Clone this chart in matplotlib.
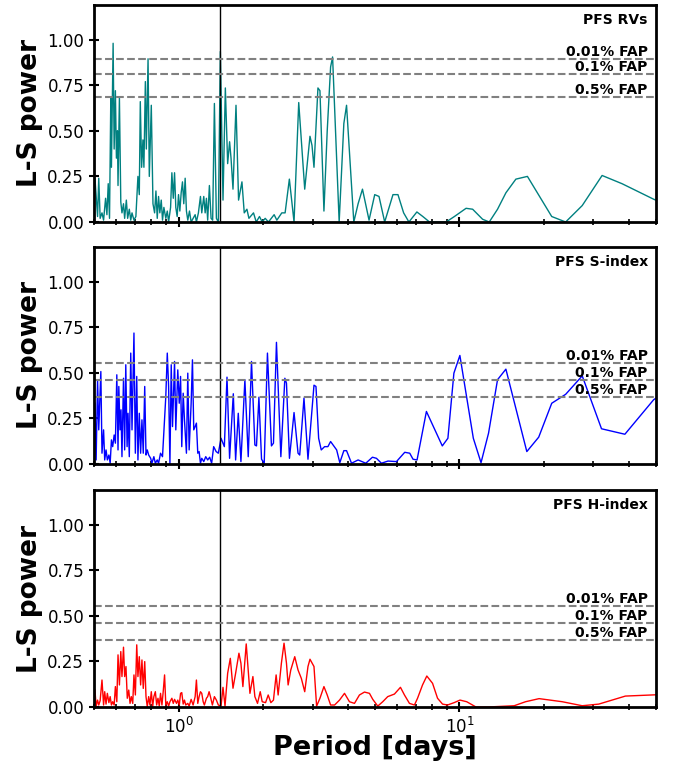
import numpy as np
import matplotlib
matplotlib.use('Agg')
import matplotlib.pyplot as plt

# PFS RVs periodogram (period in days, L-S power)
rv_period = [0.504, 0.515, 0.520, 0.526, 0.534, 0.541, 0.550, 0.556, 0.562, 0.568,
             0.574, 0.577, 0.585, 0.590, 0.596, 0.601, 0.606, 0.609, 0.616, 0.623,
             0.629, 0.637, 0.643, 0.652, 0.659, 0.668, 0.676, 0.683, 0.694, 0.705,
             0.717, 0.725, 0.731, 0.739, 0.747, 0.753, 0.762, 0.768, 0.779, 0.787,
             0.800, 0.811, 0.822, 0.831, 0.840, 0.849, 0.858, 0.868, 0.877, 0.887,
             0.901, 0.912, 0.922, 0.937, 0.947, 0.958, 0.968, 0.978, 0.989, 1.000,
             1.011, 1.022, 1.033, 1.044, 1.056, 1.067, 1.079, 1.094, 1.109, 1.127,
             1.146, 1.158, 1.177, 1.197, 1.210, 1.230, 1.244, 1.257, 1.270, 1.288,
             1.306, 1.323, 1.342, 1.364, 1.386, 1.409, 1.440, 1.468, 1.496, 1.520,
             1.538, 1.563, 1.602, 1.636, 1.682, 1.714, 1.752, 1.781, 1.849, 1.891,
             1.942, 1.986, 2.035, 2.090, 2.190, 2.239, 2.332, 2.396, 2.481, 2.578,
             2.679, 2.814, 2.938, 2.987, 3.036, 3.136, 3.188, 3.294, 3.384, 3.479,
             3.536, 3.732, 3.878, 3.965, 4.208, 4.359, 4.518, 4.768, 4.995, 5.174,
             5.420, 5.801, 6.043, 6.331, 6.611, 7.057, 7.410, 7.827, 8.970, 9.599,
             10.562, 11.147, 12.096, 12.774, 13.672, 14.641, 15.889, 17.466, 21.316, 23.897,
             27.370, 32.218, 37.931, 49.141, 50.0]
rv_power = [0.24, 0.03, 0.24, 0.02, 0.05, 0.01, 0.13, 0.04, 0.21, 0.02,
            0.68, 0.30, 0.98, 0.40, 0.72, 0.35, 0.50, 0.20, 0.68, 0.11,
            0.05, 0.10, 0.02, 0.12, 0.02, 0.07, 0.01, 0.05, 0.01, 0.03,
            0.25, 0.15, 0.66, 0.30, 0.45, 0.30, 0.77, 0.40, 0.895, 0.25,
            0.64, 0.10, 0.05, 0.17, 0.02, 0.14, 0.05, 0.12, 0.01, 0.08,
            0.02, 0.06, 0.00, 0.08, 0.27, 0.13, 0.27, 0.08, 0.03, 0.15,
            0.06, 0.16, 0.22, 0.10, 0.24, 0.06, 0.01, 0.06, 0.00, 0.02,
            0.04, 0.00, 0.05, 0.14, 0.05, 0.14, 0.05, 0.13, 0.01, 0.20,
            0.02, 0.01, 0.65, 0.02, 0.00, 0.935, 0.12, 0.735, 0.32, 0.44,
            0.35, 0.18, 0.64, 0.12, 0.22, 0.05, 0.07, 0.02, 0.05, 0.00,
            0.03, 0.00, 0.02, 0.00, 0.04, 0.01, 0.05, 0.05, 0.235, 0.00,
            0.655, 0.18, 0.47, 0.42, 0.30, 0.735, 0.72, 0.06, 0.50, 0.85,
            0.905, 0.00, 0.54, 0.64, 0.00, 0.10, 0.18, 0.01, 0.15, 0.14,
            0.00, 0.15, 0.15, 0.05, 0.00, 0.055, 0.03, 0.00, 0.00, 0.03,
            0.075, 0.07, 0.015, 0.00, 0.07, 0.16, 0.235, 0.25, 0.03, 0.00,
            0.09, 0.255, 0.21, 0.125, 0.12]

# PFS S-index periodogram
s_period = [0.504, 0.509, 0.515, 0.520, 0.529, 0.534, 0.541, 0.546, 0.552, 0.558,
            0.565, 0.571, 0.577, 0.583, 0.590, 0.596, 0.603, 0.609, 0.613, 0.619,
            0.624, 0.629, 0.637, 0.643, 0.649, 0.656, 0.661, 0.668, 0.676, 0.683,
            0.694, 0.702, 0.710, 0.717, 0.725, 0.733, 0.741, 0.749, 0.758, 0.766,
            0.774, 0.783, 0.796, 0.804, 0.817, 0.827, 0.840, 0.849, 0.863, 0.877,
            0.892, 0.901, 0.912, 0.922, 0.932, 0.942, 0.952, 0.968, 0.978, 0.994,
            1.006, 1.017, 1.027, 1.039, 1.050, 1.067, 1.079, 1.091, 1.109, 1.121,
            1.133, 1.146, 1.158, 1.171, 1.184, 1.197, 1.210, 1.230, 1.250, 1.270,
            1.291, 1.312, 1.334, 1.361, 1.386, 1.417, 1.456, 1.488, 1.520, 1.567,
            1.597, 1.632, 1.668, 1.723, 1.771, 1.819, 1.870, 1.895, 1.933, 1.975,
            2.019, 2.073, 2.142, 2.178, 2.232, 2.314, 2.391, 2.423, 2.483, 2.578,
            2.664, 2.701, 2.797, 2.890, 3.036, 3.086, 3.154, 3.222, 3.312, 3.403,
            3.479, 3.656, 3.752, 3.878, 3.965, 4.130, 4.359, 4.643, 4.903, 5.066,
            5.277, 5.570, 5.969, 6.389, 6.656, 6.838, 7.067, 7.631, 8.692, 9.101,
            9.559, 10.04, 11.21, 11.94, 12.70, 13.67, 14.64, 17.38, 19.16, 21.32,
            23.90, 27.37, 32.06, 38.83, 49.14, 50.0]
s_power = [0.333, 0.022, 0.462, 0.187, 0.507, 0.059, 0.187, 0.022, 0.077, 0.022,
           0.049, 0.004, 0.132, 0.095, 0.159, 0.114, 0.489, 0.077, 0.425, 0.187,
           0.297, 0.040, 0.470, 0.077, 0.544, 0.095, 0.278, 0.040, 0.608, 0.187,
           0.718, 0.059, 0.480, 0.022, 0.278, 0.059, 0.242, 0.059, 0.425, 0.049,
           0.077, 0.049, 0.031, 0.004, 0.040, 0.004, 0.022, 0.004, 0.059, 0.040,
           0.242, 0.370, 0.608, 0.425, 0.000, 0.544, 0.205, 0.562, 0.187, 0.516,
           0.333, 0.480, 0.095, 0.388, 0.242, 0.059, 0.498, 0.077, 0.333, 0.571,
           0.187, 0.205, 0.224, 0.059, 0.068, 0.004, 0.031, 0.013, 0.040, 0.022,
           0.037, 0.004, 0.095, 0.068, 0.059, 0.141, 0.095, 0.476, 0.031, 0.385,
           0.022, 0.278, 0.013, 0.462, 0.040, 0.562, 0.104, 0.099, 0.366, 0.026,
           0.004, 0.608, 0.099, 0.114, 0.667, 0.040, 0.470, 0.443, 0.031, 0.282,
           0.059, 0.049, 0.361, 0.026, 0.432, 0.425, 0.141, 0.077, 0.095, 0.095,
           0.123, 0.077, 0.007, 0.073, 0.073, 0.004, 0.022, 0.004, 0.037, 0.031,
           0.004, 0.016, 0.013, 0.064, 0.059, 0.026, 0.022, 0.288, 0.099, 0.141,
           0.498, 0.595, 0.141, 0.007, 0.169, 0.462, 0.520, 0.068, 0.147, 0.333,
           0.382, 0.483, 0.193, 0.163, 0.352, 0.36]

# PFS H-index periodogram
h_period = [0.504, 0.509, 0.515, 0.520, 0.526, 0.534, 0.541, 0.546, 0.552, 0.558,
            0.565, 0.571, 0.577, 0.583, 0.590, 0.596, 0.603, 0.609, 0.616, 0.623,
            0.629, 0.637, 0.643, 0.650, 0.657, 0.665, 0.672, 0.679, 0.687, 0.694,
            0.702, 0.710, 0.717, 0.725, 0.733, 0.741, 0.749, 0.758, 0.766, 0.774,
            0.783, 0.791, 0.800, 0.809, 0.817, 0.827, 0.836, 0.845, 0.854, 0.863,
            0.873, 0.882, 0.892, 0.901, 0.912, 0.922, 0.932, 0.947, 0.958, 0.968,
            0.984, 0.994, 1.006, 1.017, 1.027, 1.039, 1.050, 1.061, 1.079, 1.091,
            1.109, 1.127, 1.146, 1.158, 1.171, 1.184, 1.197, 1.210, 1.224, 1.236,
            1.257, 1.270, 1.285, 1.299, 1.320, 1.342, 1.364, 1.386, 1.417, 1.440,
            1.464, 1.496, 1.529, 1.563, 1.597, 1.641, 1.668, 1.695, 1.742, 1.771,
            1.796, 1.840, 1.870, 1.911, 1.954, 1.986, 2.041, 2.086, 2.132, 2.178,
            2.226, 2.263, 2.324, 2.375, 2.423, 2.456, 2.510, 2.593, 2.664, 2.737,
            2.814, 2.890, 2.938, 3.036, 3.102, 3.188, 3.294, 3.384, 3.479, 3.595,
            3.743, 3.899, 4.061, 4.231, 4.407, 4.592, 4.784, 4.916, 5.121, 5.334,
            5.557, 5.871, 6.168, 6.374, 6.640, 6.917, 7.096, 7.392, 7.656, 8.025,
            8.360, 8.709, 9.072, 9.578, 10.05, 10.62, 11.46, 12.60, 15.67, 17.20,
            19.22, 23.24, 27.37, 31.35, 38.99, 49.14, 50.0]
h_power = [0.093, 0.005, 0.038, 0.011, 0.035, 0.148, 0.011, 0.084, 0.016, 0.075,
           0.024, 0.057, 0.011, 0.029, 0.011, 0.112, 0.029, 0.286, 0.121, 0.304,
           0.167, 0.328, 0.167, 0.222, 0.048, 0.093, 0.020, 0.057, 0.020, 0.176,
           0.066, 0.341, 0.167, 0.276, 0.121, 0.258, 0.102, 0.249, 0.057, 0.002,
           0.057, 0.011, 0.084, 0.002, 0.057, 0.084, 0.011, 0.048, 0.005, 0.075,
           0.011, 0.084, 0.176, 0.011, 0.029, 0.005, 0.029, 0.048, 0.020, 0.042,
           0.020, 0.038, 0.011, 0.075, 0.079, 0.016, 0.038, 0.011, 0.020, 0.005,
           0.042, 0.011, 0.057, 0.148, 0.020, 0.057, 0.084, 0.075, 0.029, 0.011,
           0.048, 0.057, 0.084, 0.057, 0.011, 0.057, 0.038, 0.011, 0.005, 0.108,
           0.005, 0.185, 0.267, 0.103, 0.185, 0.295, 0.240, 0.112, 0.346, 0.203,
           0.075, 0.167, 0.057, 0.020, 0.084, 0.029, 0.024, 0.066, 0.024, 0.038,
           0.176, 0.066, 0.240, 0.350, 0.240, 0.121, 0.203, 0.276, 0.203, 0.157,
           0.084, 0.222, 0.262, 0.222, 0.005, 0.048, 0.112, 0.066, 0.011, 0.011,
           0.038, 0.075, 0.029, 0.020, 0.066, 0.082, 0.075, 0.042, 0.005, 0.029,
           0.057, 0.071, 0.108, 0.066, 0.020, 0.011, 0.048, 0.121, 0.170, 0.130,
           0.048, 0.016, 0.011, 0.024, 0.038, 0.029, 0.000, 0.000, 0.007, 0.029,
           0.046, 0.029, 0.007, 0.016, 0.060, 0.066, 0.067]

# false alarm probability levels (0.01%, 0.1%, 0.5%)
fap_labels = ['0.01% FAP', '0.1% FAP', '0.5% FAP']
rv_fap = [0.896, 0.809, 0.687]
s_fap = [0.555, 0.460, 0.366]
h_fap = [0.556, 0.461, 0.367]

p_rot = 1.40

panels = [
    (rv_period, rv_power, rv_fap, 'teal', 'PFS RVs'),
    (s_period, s_power, s_fap, 'blue', 'PFS S-index'),
    (h_period, h_power, h_fap, 'red', 'PFS H-index'),
]

fig = plt.figure(figsize=(6.76, 7.66), dpi=100)
bottoms = [0.7102, 0.3943, 0.0770]
axes = []
for i, (per, pw, fap, col, name) in enumerate(panels):
    ax = fig.add_axes([0.139, bottoms[i], 0.831, 0.2833])
    ax.plot(per, pw, color=col, lw=1.0)
    ax.axvline(p_rot, color='k', lw=1.0)
    for lev, lab in zip(fap, fap_labels):
        ax.axhline(lev, color='gray', ls='--', lw=1.5)
        ax.text(0.986, lev, lab, transform=ax.get_yaxis_transform(),
                ha='right', va='bottom', fontsize=10, fontweight='bold')
    ax.text(0.986, 0.965, name, transform=ax.transAxes, ha='right', va='top',
            fontsize=10, fontweight='bold')
    ax.set_xscale('log')
    ax.set_xlim(0.5, 50)
    ax.set_ylim(0, 1.19)
    ax.set_yticks([0, 0.25, 0.5, 0.75, 1.0])
    ax.set_yticklabels(['0.00', '0.25', '0.50', '0.75', '1.00'])
    ax.tick_params(axis='both', which='major', direction='inout', length=7,
                   width=1.5, labelsize=12)
    ax.tick_params(axis='x', which='minor', direction='inout', length=5, width=1.2)
    for sp in ax.spines.values():
        sp.set_linewidth(2)
    ax.set_ylabel('L-S power', fontsize=19, fontweight='bold')
    ax.yaxis.set_label_coords(-0.09, 0.5)
    if i < 2:
        ax.tick_params(axis='x', which='both', labelbottom=False)
    axes.append(ax)

axes[-1].set_xlabel('Period [days]', fontsize=19.5, fontweight='bold', va='top')
axes[-1].xaxis.set_label_coords(0.5, -0.128)

plt.savefig('out.png', dpi=100)
